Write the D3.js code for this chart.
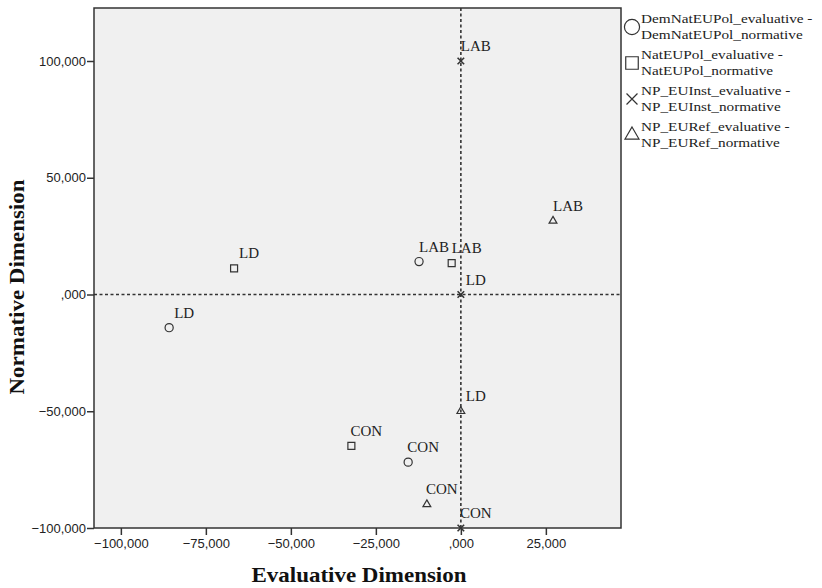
<!DOCTYPE html>
<html><head><meta charset="utf-8">
<script src="https://cdn.jsdelivr.net/npm/d3@7"></script>
<style>
html,body{margin:0;padding:0;background:#fff;}
svg{display:block;}
</style></head>
<body>
<svg id="chart" width="822" height="588"></svg>
<script>
// ---- data ----
const seriesNames = ["DemNatEUPol", "NatEUPol", "NP_EUInst", "NP_EURef"];
const legendLine1 = ["DemNatEUPol_evaluative -", "NatEUPol_evaluative -", "NP_EUInst_evaluative -", "NP_EURef_evaluative -"];
const legendLine2 = ["DemNatEUPol_normative", "NatEUPol_normative", "NP_EUInst_normative", "NP_EURef_normative"];
const parties = ["LD", "LAB", "CON"];
const demNatEval = [-85800, -12300, -15500];
const demNatNorm = [-14200, 14100, -71800];
const natEval = [-66700, -2700, -32200];
const natNorm = [11200, 13400, -64800];
const instEval = [0, 0, 0];
const instNorm = [0, 100000, -100000];
const refEval = [0, 27100, -10000];
const refNorm = [-50000, 31500, -89900];
const xTicks = [-100000, -75000, -50000, -25000, 0, 25000];
const yTicks = [-100000, -50000, 0, 50000, 100000];
const xTitle = "Evaluative Dimension";
const yTitle = "Normative Dimension";

// ---- layout ----
const svg = d3.select("#chart");
const L = 94, R = 621, T = 8, B = 528;
const x = d3.scaleLinear().domain([-107900, 47100]).range([L, R]);
const y = d3.scaleLinear().domain([-100000, 122700]).range([B, T]);
const fmt = v => d3.format(".3f")(v / 1000).replace(".", ",").replace(/^(-?)0,/, "$1,");

const evals = [demNatEval, natEval, instEval, refEval];
const norms = [demNatNorm, natNorm, instNorm, refNorm];
const symTypes = [d3.symbolCircle, d3.symbolSquare2, d3.symbolTimes, d3.symbolTriangle2];
const symSizes = [52, 62, 30, 44];
const legSizes = [180, 200, 80, 140];

svg.append("rect").attr("x", L).attr("y", T).attr("width", R - L).attr("height", B - T)
  .attr("fill", "#f0f0f0");

// reference lines
const g = svg.append("g");
g.append("line").attr("x1", L).attr("x2", R).attr("y1", y(0)).attr("y2", y(0))
  .attr("stroke", "#333").attr("stroke-width", 1.6).attr("stroke-dasharray", "3,2.5");
g.append("line").attr("x1", x(0)).attr("x2", x(0)).attr("y1", T).attr("y2", B)
  .attr("stroke", "#333").attr("stroke-width", 1.6).attr("stroke-dasharray", "3,2.5");

// axes
const xAxis = svg.append("g").attr("transform", `translate(0,${B})`)
  .call(d3.axisBottom(x).tickValues(xTicks).tickFormat(fmt).tickSize(7).tickSizeOuter(0));
const yAxis = svg.append("g").attr("transform", `translate(${L},0)`)
  .call(d3.axisLeft(y).tickValues(yTicks).tickFormat(fmt).tickSize(7).tickSizeOuter(0));
[xAxis, yAxis].forEach(a => {
  a.select(".domain").remove();
  a.selectAll(".tick line").attr("stroke", "#333").attr("stroke-width", 1.5);
  a.selectAll(".tick text").attr("font-family", "Liberation Sans, Arial, sans-serif")
    .attr("font-size", 13).attr("fill", "#222");
});
xAxis.selectAll(".tick text").attr("dy", "0.95em").attr("y", 8);
yAxis.selectAll(".tick text").attr("x", -8);

// frame
svg.append("rect").attr("x", L).attr("y", T).attr("width", R - L).attr("height", B - T)
  .attr("fill", "none").attr("stroke", "#333").attr("stroke-width", 1.5);

// points
seriesNames.forEach((s, si) => {
  const pts = parties.map((p, i) => ({ p, ex: evals[si][i], no: norms[si][i] }));
  const sg = svg.append("g");
  sg.selectAll("path").data(pts).join("path")
    .attr("transform", d => `translate(${x(d.ex)},${y(d.no)})`)
    .attr("d", d3.symbol().type(symTypes[si]).size(symSizes[si]))
    .attr("fill", "none").attr("stroke", "#333").attr("stroke-width", si === 2 ? 1.6 : 1.2);
  sg.selectAll("text").data(pts).join("text")
    .attr("x", d => x(d.ex) + 15).attr("y", d => y(d.no) - 10)
    .attr("text-anchor", "middle")
    .attr("font-family", "Liberation Serif, Times New Roman, serif")
    .attr("font-size", 15).attr("fill", "#222")
    .text(d => d.p);
});

// axis titles
svg.append("text").attr("x", 359).attr("y", 582).attr("text-anchor", "middle")
  .attr("font-family", "Liberation Serif, Times New Roman, serif").attr("font-weight", "bold")
  .attr("font-size", 21).attr("textLength", 215).attr("lengthAdjust", "spacingAndGlyphs")
  .attr("fill", "#111").text(xTitle);
svg.append("text").attr("transform", "translate(24,287) rotate(-90)").attr("text-anchor", "middle")
  .attr("font-family", "Liberation Serif, Times New Roman, serif").attr("font-weight", "bold")
  .attr("font-size", 21).attr("textLength", 215).attr("lengthAdjust", "spacingAndGlyphs")
  .attr("fill", "#111").text(yTitle);

// legend
const lg = svg.append("g");
seriesNames.forEach((s, i) => {
  const by = 22.5 + i * 36;
  lg.append("path").attr("transform", `translate(632,${by + 4.5})`)
    .attr("d", d3.symbol().type(symTypes[i]).size(legSizes[i]))
    .attr("fill", "none").attr("stroke", "#333").attr("stroke-width", 1.2);
  [legendLine1[i], legendLine2[i]].forEach((t, k) => {
    lg.append("text").attr("transform", `translate(641,${by + k * 16}) scale(1.13,1)`)
      .attr("font-family", "Liberation Serif, Times New Roman, serif").attr("font-size", 13.5)
      .attr("fill", "#222").text(t);
  });
});
</script>
</body></html>
